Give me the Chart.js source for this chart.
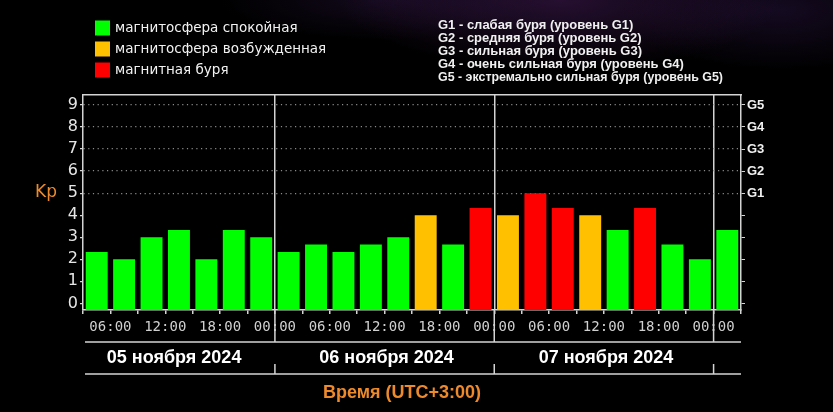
<!DOCTYPE html>
<html lang="ru">
<head>
<meta charset="UTF-8">
<title>Kp-индекс</title>
<script src="https://cdn.jsdelivr.net/npm/chart.js@4"></script>
<style>
  html, body { margin: 0; padding: 0; }
  body {
    width: 833px; height: 412px; overflow: hidden;
    background:
      radial-gradient(ellipse 220px 70px at 560px 0px, rgba(85, 35, 110, 0.45), transparent),
      radial-gradient(ellipse 160px 60px at 780px 10px, rgba(60, 30, 95, 0.35), transparent),
      radial-gradient(ellipse 160px 40px at 380px 0px, rgba(60, 30, 90, 0.3), transparent),
      #000;
  }
  canvas { display: block; }
</style>
</head>
<body>
<canvas id="chart" width="833" height="412"></canvas>
<script>
// 3-часовые интервалы, время UTC+3
const slots = [
  '05.11 03:00', '05.11 06:00', '05.11 09:00', '05.11 12:00', '05.11 15:00', '05.11 18:00', '05.11 21:00',
  '06.11 00:00', '06.11 03:00', '06.11 06:00', '06.11 09:00', '06.11 12:00', '06.11 15:00', '06.11 18:00', '06.11 21:00',
  '07.11 00:00', '07.11 03:00', '07.11 06:00', '07.11 09:00', '07.11 12:00', '07.11 15:00', '07.11 18:00', '07.11 21:00',
  '08.11 00:00'
];
const kpValues = [
  2.33, 2.0, 3.0, 3.33, 2.0, 3.33, 3.0,
  2.33, 2.67, 2.33, 2.67, 3.0, 4.0, 2.67, 4.33,
  4.0, 5.0, 4.33, 4.0, 3.33, 4.33, 2.67, 2.0,
  3.33
];
const kpStatus = [
  'calm', 'calm', 'calm', 'calm', 'calm', 'calm', 'calm',
  'calm', 'calm', 'calm', 'calm', 'calm', 'active', 'calm', 'storm',
  'active', 'storm', 'storm', 'active', 'calm', 'storm', 'calm', 'calm',
  'calm'
];
// границы интервалов (подписи оси времени)
const timeTicks = [
  '03:00', '06:00', '09:00', '12:00', '15:00', '18:00', '21:00', '00:00',
  '03:00', '06:00', '09:00', '12:00', '15:00', '18:00', '21:00', '00:00',
  '03:00', '06:00', '09:00', '12:00', '15:00', '18:00', '21:00', '00:00',
  '03:00'
];
const days = ['05 ноября 2024', '06 ноября 2024', '07 ноября 2024'];
const kpTicks = [0, 1, 2, 3, 4, 5, 6, 7, 8, 9];
const gLevels = ['G1', 'G2', 'G3', 'G4', 'G5'];   // Kp 5..9
const statusLabels = {
  calm: 'магнитосфера спокойная',
  active: 'магнитосфера возбужденная',
  storm: 'магнитная буря'
};
const gLegend = [
  'G1 - слабая буря (уровень G1)',
  'G2 - средняя буря (уровень G2)',
  'G3 - сильная буря (уровень G3)',
  'G4 - очень сильная буря (уровень G4)',
  'G5 - экстремально сильная буря (уровень G5)'
];

const palette = { calm: '#00ff00', active: '#ffc000', storm: '#ff0000' };
const frame = '#d4d4d4';
const orange = '#ee8a2c';
const yMin = -0.3, yMax = 9.45;

const isMain = t => parseInt(t, 10) % 6 === 0;
const dayEdges = timeTicks.map((t, k) => t === '00:00' ? k : -1).filter(k => k >= 0);

const decor = {
  id: 'decor',
  beforeDraw(chart) {
    const { ctx, chartArea: a } = chart;
    ctx.save();
    ctx.fillStyle = '#000';
    ctx.fillRect(a.left, a.top, a.right - a.left, a.bottom - a.top);
    ctx.restore();
  },
  afterDraw(chart) {
    const { ctx, chartArea: a } = chart;
    const xs = chart.scales.x2;
    ctx.save();

    // легенда слева
    ctx.font = '13.5px "DejaVu Sans"';
    ctx.textBaseline = 'middle';
    ctx.textAlign = 'left';
    Object.keys(statusLabels).forEach((key, i) => {
      const y = 28 + i * 21;
      ctx.fillStyle = palette[key];
      ctx.fillRect(95, y - 7.5, 15, 15);
      ctx.fillStyle = '#f2f2f2';
      ctx.fillText(statusLabels[key], 115, y);
    });

    // уровни G справа
    ctx.font = 'bold 13px "Liberation Sans"';
    gLegend.forEach((t, i) => {
      ctx.fillStyle = '#f0f0f0';
      ctx.fillText(t, 438, 25 + i * 13.1, 285);
    });

    // Kp
    ctx.font = '17px "DejaVu Sans"';
    ctx.fillStyle = orange;
    ctx.textAlign = 'center';
    ctx.fillText('Kp', 46, 193);

    // разделители дней под осью и линии под подписями
    ctx.strokeStyle = frame;
    ctx.lineWidth = 1.5;
    const lineTop = 342, lineBot = 374;
    ctx.beginPath();
    ctx.moveTo(a.left + 2, lineTop); ctx.lineTo(a.right, lineTop);
    ctx.moveTo(a.left + 2, lineBot); ctx.lineTo(a.right, lineBot);
    dayEdges.forEach(k => {
      const x = xs.getPixelForValue(k);
      ctx.moveTo(x, a.bottom); ctx.lineTo(x, lineTop);
      ctx.moveTo(x, lineBot - 10); ctx.lineTo(x, lineBot);
    });
    ctx.stroke();

    // даты
    ctx.font = 'bold 18px "Liberation Sans"';
    ctx.fillStyle = '#ffffff';
    const starts = [-0.5].concat(dayEdges);
    days.forEach((d, i) => {
      const x0 = xs.getPixelForValue(starts[i]);
      const x1 = xs.getPixelForValue(starts[i + 1]);
      ctx.fillText(d, (x0 + x1) / 2 + 2, 358, 138);
    });

    // подпись оси времени
    ctx.fillStyle = orange;
    ctx.fillText('Время (UTC+3:00)', (a.left + a.right) / 2 - 10, 393);
    ctx.restore();
  }
};

Chart.defaults.font.family = '"DejaVu Sans", sans-serif';

new Chart(document.getElementById('chart'), {
  type: 'bar',
  data: {
    labels: slots,
    datasets: [{
      label: 'Kp',
      data: kpValues,
      backgroundColor: kpStatus.map(s => palette[s]),
      base: yMin,
      barPercentage: 0.8,
      categoryPercentage: 1.0,
      borderWidth: 0
    }]
  },
  options: {
    responsive: false,
    animation: false,
    layout: { padding: { top: 95, left: 0, right: 0, bottom: 0 } },
    plugins: { legend: { display: false }, tooltip: { enabled: false } },
    scales: {
      x: {
        type: 'category',
        position: 'top',
        grid: { display: false },
        ticks: { display: false },
        border: { display: true, color: frame, width: 1.5 },
        afterFit: s => { s.height = 0; }
      },
      x2: {
        type: 'linear',
        position: 'bottom',
        offset: false,
        min: 0,
        max: timeTicks.length - 1,
        afterBuildTicks: s => { s.ticks = timeTicks.map((t, k) => ({ value: k })); },
        ticks: {
          autoSkip: false,
          maxRotation: 0,
          padding: 5,
          color: '#d0d0d0',
          font: { family: '"DejaVu Sans Mono", monospace', size: 14 },
          callback: (v, i) => isMain(timeTicks[i]) ? timeTicks[i] : ''
        },
        grid: {
          offset: false,
          color: c => dayEdges.includes(c.index) ? frame : 'transparent',
          lineWidth: 1.5,
          tickColor: frame,
          tickLength: 4
        },
        border: { display: true, color: frame, width: 1.5 },
        afterFit: s => { s.height = 102; }
      },
      y: {
        type: 'linear',
        position: 'left',
        min: yMin,
        max: yMax,
        afterBuildTicks: s => { s.ticks = kpTicks.map(v => ({ value: v })); },
        ticks: {
          padding: 2,
          color: '#e6e6e6',
          font: { size: 16 },
          callback: v => String(v)
        },
        grid: {
          color: c => (c.tick && c.tick.value >= 5) ? '#8a8a8a' : 'transparent',
          lineWidth: 1.2,
          tickColor: frame,
          tickLength: 3
        },
        border: { display: true, color: frame, width: 1.5, dash: [1.2, 3.5] },
        afterFit: s => { s.width = 83; }
      },
      yG: {
        type: 'linear',
        position: 'right',
        min: yMin,
        max: yMax,
        afterBuildTicks: s => { s.ticks = kpTicks.map(v => ({ value: v })); },
        ticks: {
          padding: 2,
          color: '#f0f0f0',
          font: { family: '"Liberation Sans"', size: 13, weight: 'bold' },
          callback: v => v >= 5 ? gLevels[v - 5] : ''
        },
        grid: { drawOnChartArea: false, tickColor: frame, tickLength: 4 },
        border: { display: true, color: frame, width: 1.5 },
        afterFit: s => { s.width = 92; }
      }
    }
  },
  plugins: [decor]
});
</script>
</body>
</html>
